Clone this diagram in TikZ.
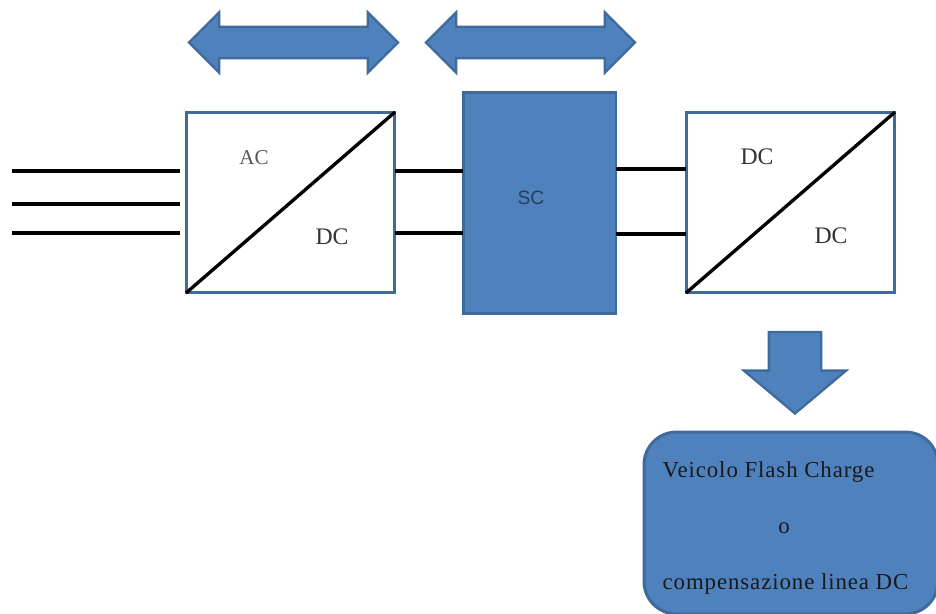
\documentclass[tikz,border=0pt]{standalone}
\usepackage{fontspec}
\setmainfont{Liberation Serif}
\setsansfont{Liberation Sans}
\newfontfamily\widefont[LetterSpace=4]{Liberation Serif}
\usetikzlibrary{shapes.arrows}
\definecolor{blockfill}{HTML}{4F81BD}
\definecolor{blockline}{HTML}{3F6A9C}
\tikzset{every picture/.style={line width=0.75pt}}
\tikzset{
    conv/.style={draw=blockline, fill=white, line width=1.7pt, inner sep=0, outer sep=0, minimum width=4.18cm, minimum height=3.62cm},
    wire/.style={black, line width=1.9pt},
    flow/.style={double arrow, draw=blockline, fill=blockfill, line width=1.3pt, inner xsep=0, inner ysep=0.29cm, minimum height=4.18cm, minimum width=1.2cm, double arrow head extend=0.29cm, double arrow tip angle=90},
    lab/.style={font=\fontsize{13.5}{15}\selectfont, text=black!80, inner sep=0},
    note/.style={font=\widefont\fontsize{13}{15}\selectfont, text=black!90, inner sep=0}
}

\begin{document}
\begin{tikzpicture}[x=0.02cm, y=-0.02cm]
    \useasboundingbox (0, 0) rectangle (936, 613);

    % frecce sopra
    \node[flow] (flowAC) at (293.5, 42.5) {};
    \node[flow] (flowSC) at (530.5, 42.5) {};

    % convertitori e supercap
    \node[conv] (acdc) at (290.5, 202.5) {};
    \node[conv] (dcdc) at (790.5, 202.5) {};
    \node[draw=blockline, fill=blockfill, line width=1.7pt, inner sep=0, outer sep=0, minimum width=3.06cm, minimum height=4.44cm] (sc) at (539.5, 203) {};
    \draw[wire] (acdc.south west) -- (acdc.north east);
    \draw[wire] (dcdc.south west) -- (dcdc.north east);

    % linee
    \foreach \y in {171, 204, 233} {
        \coordinate (in\y) at (12, \y);
        \coordinate (out\y) at (180, \y);
        \draw[wire] (in\y) -- (out\y);
    }
    \foreach \y in {171, 233} {
        \draw[wire] (acdc.east |- 0, \y) -- (sc.west |- 0, \y);
    }
    \foreach \y in {169, 234} {
        \draw[wire] (sc.east |- 0, \y) -- (dcdc.west |- 0, \y);
    }

    % etichette
    \node[font=\fontsize{12}{14}\selectfont, text=black!65, inner sep=0] (labAC) at (254, 157.5) {AC};
    \node[lab] (labDCa) at (332, 237) {DC};
    \node[font=\sffamily\fontsize{11}{13}\selectfont, text=blockline!60!black, inner sep=0] (labSC) at (531, 197.5) {SC};
    \node[lab] (labDCb) at (757, 157) {DC};
    \node[lab] (labDCc) at (831, 236) {DC};

    % uscita
    \node[single arrow, draw=blockline, fill=blockfill, line width=1.3pt, inner xsep=0.5cm, inner ysep=0, minimum height=1.63cm, minimum width=2cm, single arrow head extend=0.5cm, single arrow tip angle=100, shape border rotate=270, anchor=tip] (down) at (795, 415) {};
    \node[draw=blockline, fill=blockfill, line width=1.7pt, rounded corners=0.65cm, inner sep=0, outer sep=0, minimum width=5.88cm, minimum height=3.64cm] (load) at (791, 523) {};
    \node[note, anchor=west] (veicolo) at (662, 472) {Veicolo Flash Charge};
    \node[note] (oppure) at (784, 528) {o};
    \node[note, anchor=west] (linea) at (662, 584) {compensazione linea DC};
\end{tikzpicture}
\end{document}
